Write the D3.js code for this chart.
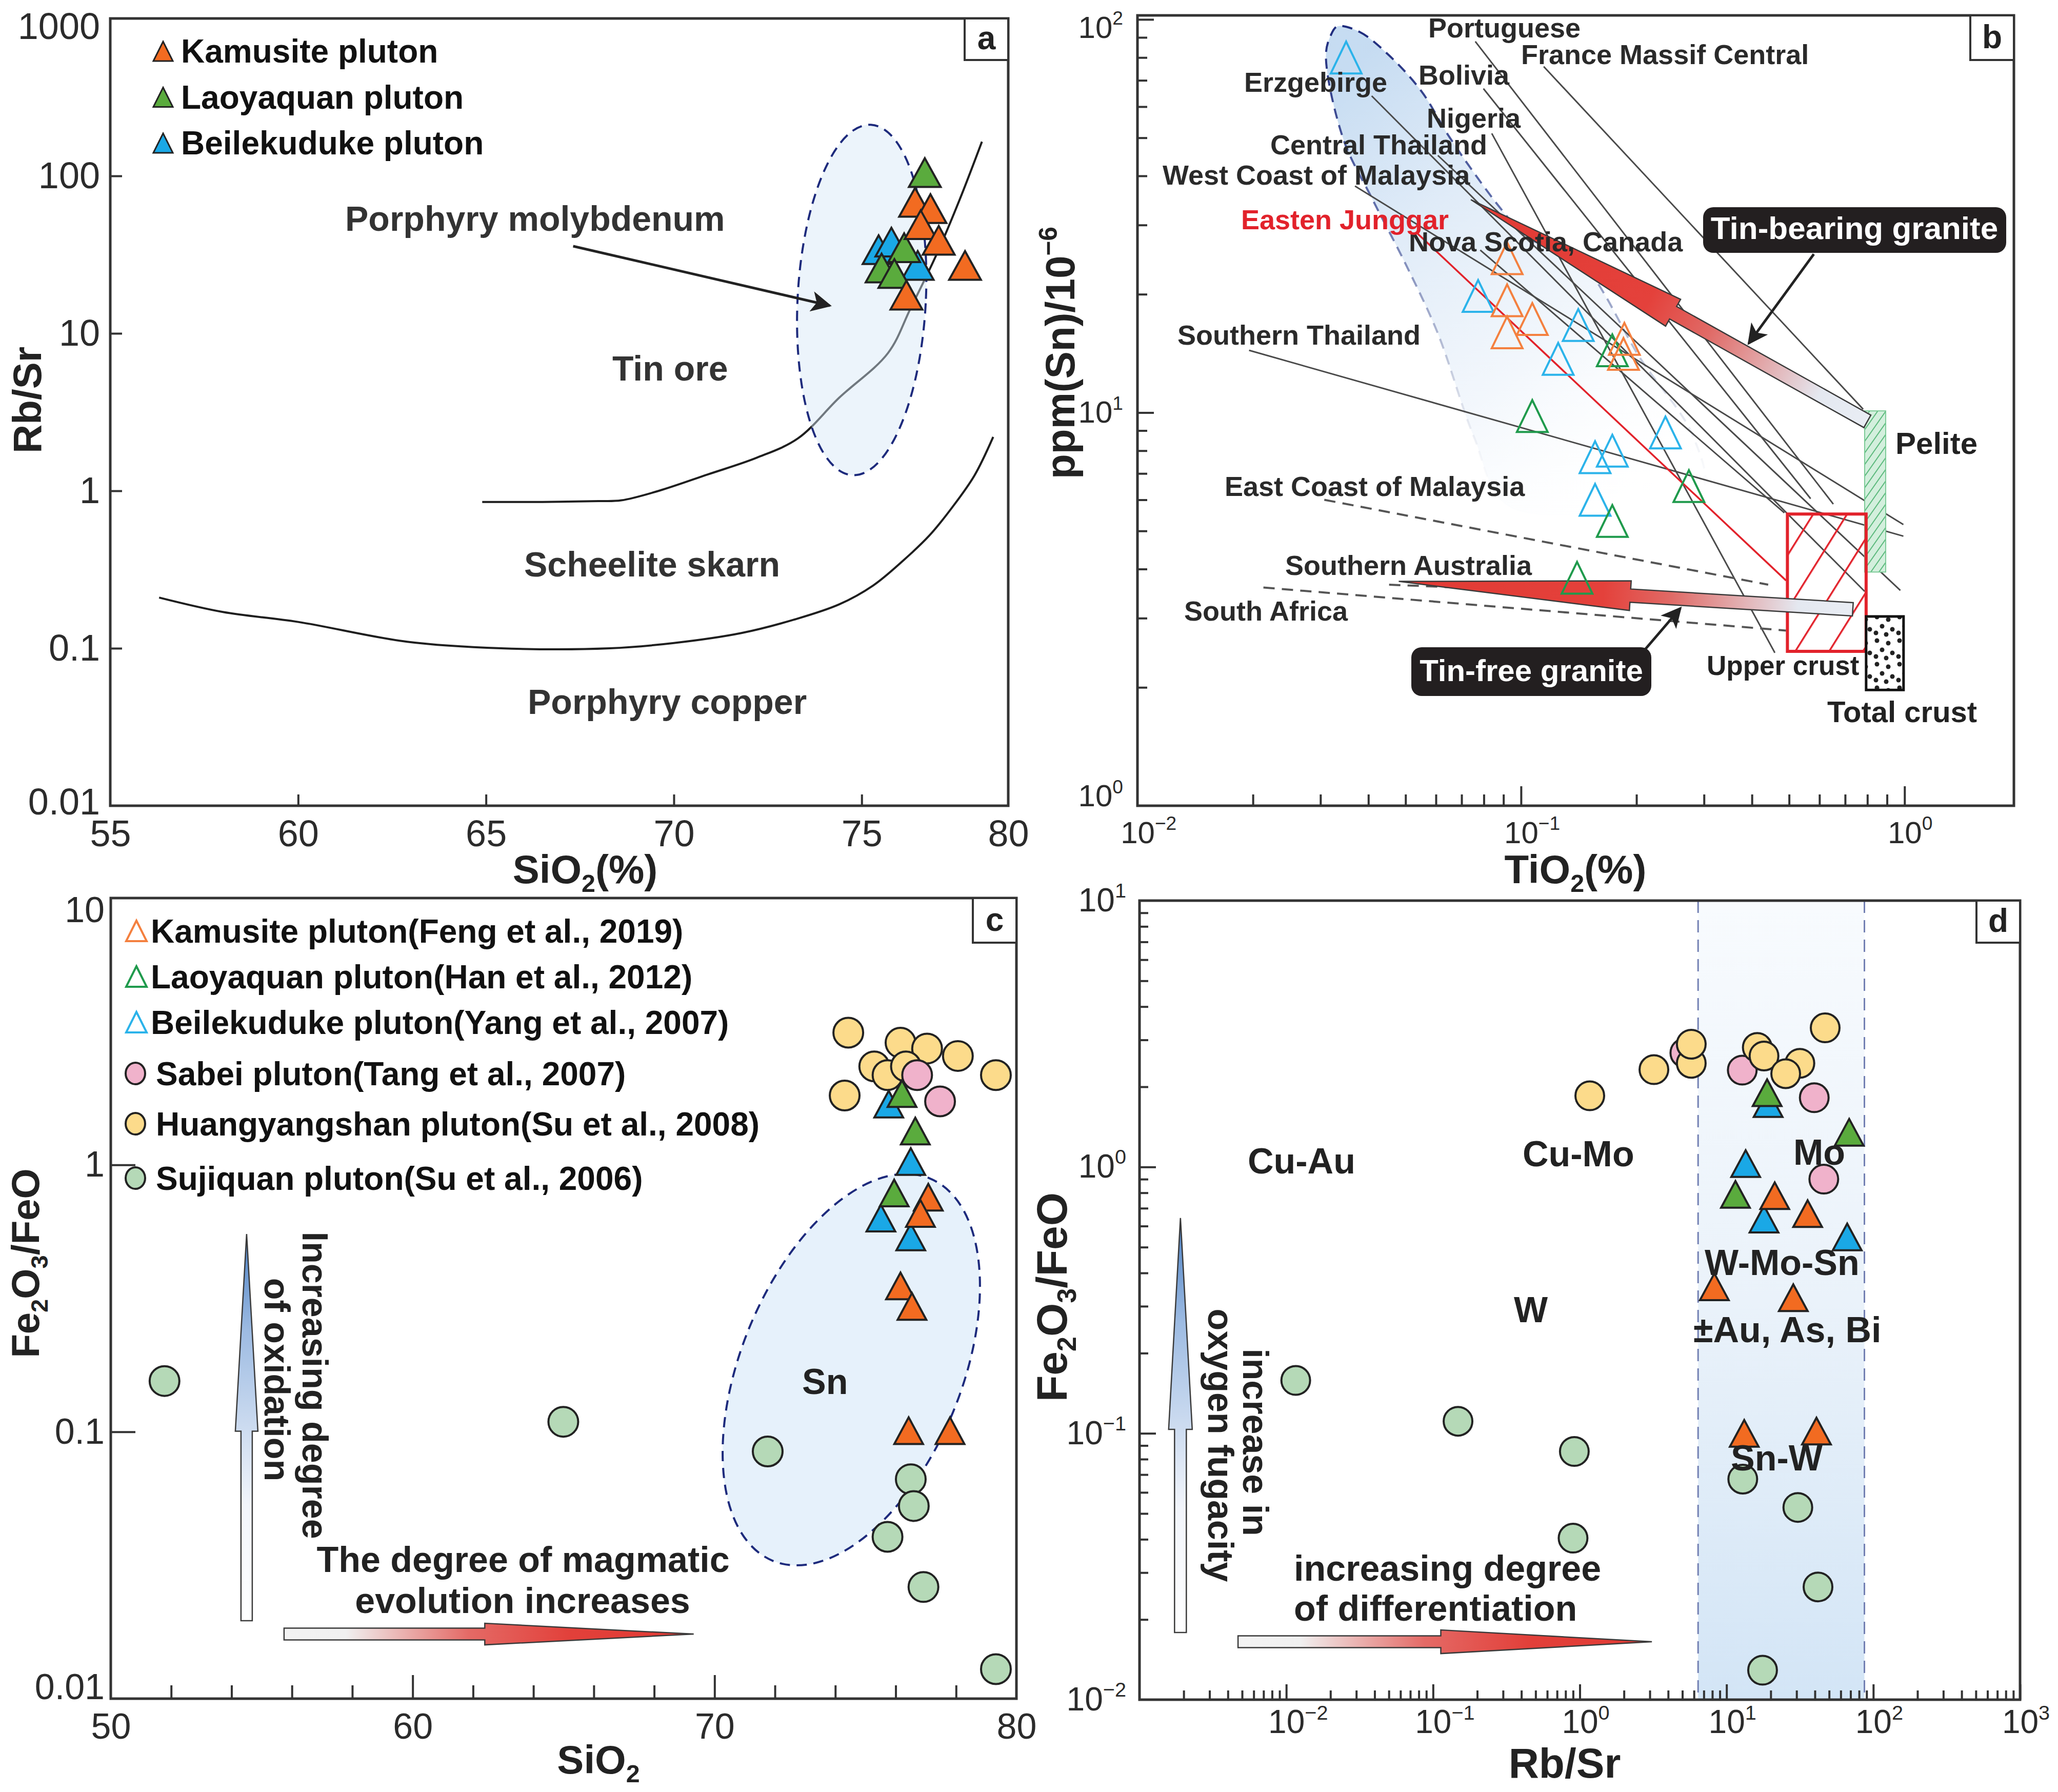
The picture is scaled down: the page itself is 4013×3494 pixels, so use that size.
<!DOCTYPE html>
<html><head><meta charset="utf-8">
<script src="https://cdn.jsdelivr.net/npm/d3@7/dist/d3.min.js"></script>
<style>html,body{margin:0;padding:0;background:#fff}text{font-family:"Liberation Sans",Arial,Helvetica,sans-serif}</style>
</head><body>
<svg id="fig" width="4013" height="3494" xmlns="http://www.w3.org/2000/svg"></svg>
<script>
// ===================== DATA =====================
// ---- panel a : SiO2 (%) vs Rb/Sr ----
const aKamusite   = [[76.42,68],[76.83,62],[76.57,49],[77.05,39],[77.75,27],[76.19,17.5]];
const aLaoyaquan  = [[76.68,105],[76.13,35],[75.53,26],[75.87,24]];
const aBeilekuduke= [[75.45,34],[75.79,38],[76.49,27]];
const aTinOreBoundary = [[64.9,0.85],[66.5,0.85],[68.0,0.86],[68.6,0.87],[69.6,1.0],[70.9,1.27],[72.2,1.62],[73.3,2.15],[74.4,3.9],[75.7,7.5],[76.3,14.4],[77.0,32],[77.6,70],[78.2,165]];
const aSkarnBoundary  = [[56.3,0.21],[58,0.17],[60,0.147],[62.9,0.11],[65.4,0.1],[68.3,0.1],[70,0.108],[71.8,0.125],[73.2,0.152],[74.4,0.19],[75.3,0.25],[76.1,0.36],[76.8,0.52],[77.4,0.78],[78.0,1.25],[78.5,2.2]];
const aXTickValues = [55,60,65,70,75,78.9];
const aXTickLabels = ['55','60','65','70','75','80'];
const aYTickValues = [0.01,0.1,1,10,100,1000];
const aYTickLabels = ['0.01','0.1','1','10','100','1000'];
const aLegendNames = ['Kamusite pluton','Laoyaquan pluton','Beilekuduke pluton'];
const aFieldCenter = [75.0,16.3];
const aPointer = [[67.32,35.8],[74.15,15.0]];

// ---- panel b : TiO2 (%) vs Sn (ppm) ----
const bKamusite   = [[0.092,24.7],[0.092,19.3],[0.107,17.3],[0.092,16.0],[0.186,15.4],[0.185,14.1]];
const bLaoyaquan  = [[0.107,9.8],[0.173,14.4],[0.274,6.5],[0.173,5.3],[0.140,3.8]];
const bBeilekuduke= [[0.035,80],[0.0773,19.8],[0.141,16.7],[0.125,13.7],[0.238,8.9],[0.156,7.7],[0.173,8.0],[0.156,6.0]];
const bTrendNames = ['Portuguese','France Massif Central','Bolivia','Nigeria','Erzgebirge','Central Thailand','West Coast of Malaysia','Nova Scotia, Canada','Southern Thailand'];
const bTrendFrom  = [[0.0760,87.9],[0.1146,75.9],[0.0798,66.7],[0.0839,51.3],[0.0408,63.9],[0.0607,45.1],[0.0369,37.7],[0.0783,25.9],[0.01954,14.4]];
const bTrendTo    = [[0.652,5.85],[0.780,10.2],[0.569,6.04],[0.459,2.45],[0.787,3.51],[0.975,3.53],[0.993,5.19],[0.486,5.56],[0.993,4.85]];
const bJunggarTrend = [[0.0536,28.6],[0.491,3.74]];
const bBarrenNames = ['East Coast of Malaysia','Southern Australia','South Africa'];
const bBarrenFrom  = [[0.0307,6.0],[0.0453,3.65],[0.0213,3.59]];
const bBarrenTo    = [[0.441,3.65],[0.479,3.32],[0.491,2.79]];
const bTinField = [[0.0332,96],[0.0379,93],[0.0453,81],[0.0551,65.5],[0.0644,51],[0.0753,40.8],[0.0897,32.5],[0.103,28],[0.142,24.3],[0.205,13.7],[0.281,8.7],[0.297,6.3],[0.176,5.6],[0.092,5.8],[0.0753,8.7],[0.0607,15.9],[0.050,23.9],[0.0411,34.7],[0.0344,49.7],[0.031,81],[0.0319,91]];
const bUpperCrustTi = [0.495,0.794], bUpperCrustSn = [2.47,5.52];
const bPeliteTi = [0.787,0.893],     bPeliteSn = [3.93,10.1];
const bTotalCrustTi = [0.794,0.994], bTotalCrustSn = [1.97,3.03];
const bTinBearingArrow = [[0.80,9.5],[0.074,34.8]];   // tail -> tip
const bTinFreeArrow    = [[0.733,3.16],[0.048,3.72]];
const bTinBearingPointer = [[0.580,25.3],[0.3924,15.0]];
const bTinFreePointer    = [[0.210,2.49],[0.2604,3.18]];
const bXMajor = [0.01,0.1,1], bXExp = ['−2','−1','0'];
const bYMajor = [1,10,100],   bYExp = ['0','1','2'];

// ---- panel c : SiO2 vs Fe2O3/FeO ----
const cKamusite   = [[77.08,0.757],[76.82,0.658],[76.16,0.352],[76.54,0.295],[76.43,0.101],[77.80,0.101]];
const cLaoyaquan  = [[76.21,1.85],[76.65,1.34],[75.95,0.785]];
const cBeilekuduke= [[75.77,1.69],[76.5,1.03],[75.51,0.632],[76.5,0.537]];
const cSabei      = [[76.71,2.17],[77.47,1.73]];
const cHuangyangshan = [[74.43,3.13],[76.16,2.87],[77.04,2.73],[78.06,2.56],[75.29,2.34],[75.73,2.17],[76.34,2.34],[79.32,2.17],[74.31,1.82]];
const cSujiquan   = [[51.78,0.155],[64.99,0.109],[71.76,0.0844],[76.5,0.0664],[76.6,0.0527],[75.73,0.0404],[76.92,0.0262],[79.32,0.0129]];
const cLegendNames = ['Kamusite pluton(Feng et al., 2019)','Laoyaquan pluton(Han et al., 2012)','Beilekuduke pluton(Yang et al., 2007)','Sabei pluton(Tang et al., 2007)','Huangyangshan pluton(Su et al., 2008)','Sujiquan pluton(Su et al., 2006)'];
const cSnFieldCenter = [74.53,0.171];
const cOxidationArrow = [[54.5,0.0196],[54.5,0.551]];
const cEvolutionArrow = [[55.74,0.01746],[69.31,0.01746]];
const cXTicks = [50,60,70,80];
const cXMinor = [52,54,56,58,62,64,66,68,72,74,76,78];
const cYTicks = [0.01,0.1,1,10], cYTickLabels = ['0.01','0.1','1','10'];

// ---- panel d : Rb/Sr vs Fe2O3/FeO ----
const dKamusite   = [[21.3,0.78],[35.7,0.668],[8.26,0.355],[28.5,0.323],[13.2,0.1],[41,0.102]];
const dLaoyaquan  = [[18.9,1.90],[68.5,1.35],[11.5,0.789]];
const dBeilekuduke= [[19.2,1.73],[13.5,1.03],[18.0,0.637],[66.4,0.546]];
const dSabei      = [[5.2,2.68],[12.8,2.31],[39.6,1.82],[46,0.90]];
const dHuangyangshan = [[1.17,1.85],[3.2,2.32],[5.75,2.45],[5.75,2.89],[16.2,2.81],[18.0,2.61],[31.6,2.45],[25.3,2.24],[47,3.33]];
const dSujiquan   = [[0.0116,0.158],[0.148,0.111],[0.918,0.0855],[0.90,0.0404],[12.9,0.0673],[30.6,0.0527],[42,0.0265],[17.6,0.0129]];
const dSnBand = [6.4,87];
const dOxidationArrow = [[0.0019,0.01787],[0.0019,0.643]];
const dDiffArrow = [[0.00469,0.0165],[3.1,0.0165]];
const dXMajor = [0.01,0.1,1,10,100,1000], dXExp = ['−2','−1','0','1','2','3'];
const dYMajor = [0.01,0.1,1,10], dYExp = ['−2','−1','0','1'];

// ===================== RENDER =====================
const svg = d3.select('#fig');
svg.append('rect').attr('width',4013).attr('height',3494).attr('fill','#fff');
const defs = svg.append('defs');
const COL = {orange:'#f26b21',green:'#5aab3d',blue:'#1aa8e6',oOpen:'#f4803f',gOpen:'#1f9a4c',bOpen:'#2bb3ea',
  yellow:'#fcdb8b',pink:'#f0b2cb',sage:'#b5d9b7',ink:'#222',frame:'#333',red:'#e2222b'};
const FF = '"Liberation Sans",Arial,sans-serif';

function addGrad(id, stops, attrs){
  const g = defs.append('linearGradient').attr('id',id);
  Object.entries(attrs||{}).forEach(([k,v])=>g.attr(k,v));
  stops.forEach(s=>g.append('stop').attr('offset',s[0]).attr('stop-color',s[1]).attr('stop-opacity',s.length>2?s[2]:1));
}
defs.append('marker').attr('id','ah').attr('viewBox','0 0 10 10').attr('refX',9).attr('refY',5)
  .attr('markerWidth',9).attr('markerHeight',8).attr('orient','auto').attr('markerUnits','strokeWidth')
  .append('path').attr('d','M0,0L10,5L0,10L2.5,5Z').attr('fill','#222');

function tri(g,data,x,y,w,h,fill,stroke,sw){
  g.append('g').selectAll('path').data(data).join('path')
   .attr('d',d=>{const px=x(d[0]),py=y(d[1]);return `M${px},${py-h/2}L${px+w/2},${py+h/2}L${px-w/2},${py+h/2}Z`;})
   .attr('fill',fill).attr('stroke',stroke).attr('stroke-width',sw).attr('stroke-linejoin','miter');
}
function dots(g,data,x,y,r,fill){
  g.append('g').selectAll('circle').data(data).join('circle')
   .attr('cx',d=>x(d[0])).attr('cy',d=>y(d[1])).attr('r',r).attr('fill',fill).attr('stroke','#222').attr('stroke-width',4);
}
function txt(g,x,y,s,fs,o){o=o||{};
  const t=g.append('text').attr('x',x).attr('y',y).attr('font-size',fs).attr('fill',o.fill||COL.ink)
   .attr('font-weight',o.weight||'bold').attr('text-anchor',o.anchor||'start');
  if(s!==null) t.text(s);
  if(o.transform) t.attr('transform',o.transform);
  return t;
}
function rich(t,parts,fs){let shift=0;
  parts.forEach(p=>{const target=p[1]==='sub'?fs*0.22:p[1]==='sup'?-fs*0.42:0;
    const ts=t.append('tspan').attr('dy',target-shift).text(p[0]); if(p[1]) ts.attr('font-size',fs*0.62); shift=target;});
  return t;
}
function fatArrow(g,p0,p1,headFrac,headHalf,shaftHalf,id,stops){
  const dx=p1[0]-p0[0],dy=p1[1]-p0[1],len=Math.hypot(dx,dy),ux=dx/len,uy=dy/len,nx=-uy,ny=ux;
  const hb=[p1[0]-ux*len*headFrac,p1[1]-uy*len*headFrac];
  const pts=[[p0[0]+nx*shaftHalf,p0[1]+ny*shaftHalf],[hb[0]+nx*shaftHalf,hb[1]+ny*shaftHalf],[hb[0]+nx*headHalf,hb[1]+ny*headHalf],p1,
    [hb[0]-nx*headHalf,hb[1]-ny*headHalf],[hb[0]-nx*shaftHalf,hb[1]-ny*shaftHalf],[p0[0]-nx*shaftHalf,p0[1]-ny*shaftHalf]];
  addGrad(id,stops,{gradientUnits:'userSpaceOnUse',x1:p0[0],y1:p0[1],x2:p1[0],y2:p1[1]});
  g.append('path').attr('d','M'+pts.map(p=>p[0].toFixed(1)+','+p[1].toFixed(1)).join('L')+'Z')
   .attr('fill',`url(#${id})`).attr('stroke','#3a3a3a').attr('stroke-width',2.5);
}
function styleAxis(sel,fs){
  sel.attr('font-family',FF).attr('font-size',fs);
  sel.select('.domain').remove();
  sel.selectAll('line').attr('stroke',COL.frame).attr('stroke-width',4);
  sel.selectAll('text').attr('fill','#2b2b2b');
}
function xAxis(g,scale,B,values,len,fmt,fs,pad){
  const a=d3.axisBottom(scale).tickValues(values).tickSizeInner(-len).tickSizeOuter(0).tickPadding(pad||0).tickFormat(fmt||(()=>''));
  const s=g.append('g').attr('transform',`translate(0,${B})`).call(a); styleAxis(s,fs||10); return s;
}
function yAxis(g,scale,L,values,len,fmt,fs,pad){
  const a=d3.axisLeft(scale).tickValues(values).tickSizeInner(-len).tickSizeOuter(0).tickPadding(pad||0).tickFormat(fmt||(()=>''));
  const s=g.append('g').attr('transform',`translate(${L},0)`).call(a); styleAxis(s,fs||10); return s;
}
function powLabels(s,exps,fs,bottom){
  s.selectAll('text').each(function(d,i){const t=d3.select(this);t.text('');
    if(bottom){t.attr('text-anchor','start').attr('x',-fs*0.556);}
    t.append('tspan').text('10'); t.append('tspan').attr('dy',-fs*0.42).attr('font-size',fs*0.62).text(exps[i]);});
}
function nudgeEnds(s,first,last){const n=s.selectAll('.tick').size();
  s.selectAll('.tick text').attr('transform',(d,i)=>i===0?`translate(0,${first})`:(i===n-1?`translate(0,${last})`:null));}
function logTicks(dom){const out=[];const lo=Math.floor(Math.log10(dom[0])-1e-9),hi=Math.ceil(Math.log10(dom[1]));
  for(let e=lo;e<=hi;e++)for(let m=2;m<10;m++){const v=m*Math.pow(10,e);if(v>dom[0]*1.001&&v<dom[1]*0.999)out.push(v);}return out;}
function frame(g,L,R,T,B){g.append('rect').attr('x',L).attr('y',T).attr('width',R-L).attr('height',B-T).attr('fill','none').attr('stroke',COL.frame).attr('stroke-width',5);}
function tag(g,x0,y0,x1,y1,l){g.append('rect').attr('x',x0).attr('y',y0).attr('width',x1-x0).attr('height',y1-y0).attr('fill','#fff').attr('stroke',COL.frame).attr('stroke-width',4);
  txt(g,(x0+x1)/2,y0+(y1-y0)*0.74,l,64,{anchor:'middle'});}

// ---------------- panel a ----------------
(function(){
  const L=215,R=1966,T=36,B=1571;
  const x=d3.scaleLinear().domain([55,78.9]).range([L,R]);
  const y=d3.scaleLog().domain([0.01,1000]).range([B,T]);
  const g=svg.append('g');
  const line=d3.line().x(d=>x(d[0])).y(d=>y(d[1])).curve(d3.curveCatmullRom.alpha(0.5));
  g.append('path').attr('d',line(aTinOreBoundary)).attr('fill','none').attr('stroke','#1e1e1e').attr('stroke-width',4);
  g.append('path').attr('d',line(aSkarnBoundary)).attr('fill','none').attr('stroke','#1e1e1e').attr('stroke-width',4);
  const c=[x(aFieldCenter[0]),y(aFieldCenter[1])];
  g.append('ellipse').attr('cx',0).attr('cy',0).attr('rx',125).attr('ry',342).attr('transform',`translate(${c[0]},${c[1]}) rotate(3)`)
   .attr('fill','#d4e6f7').attr('fill-opacity',0.45).attr('stroke','#1d2a7c').attr('stroke-width',4).attr('stroke-dasharray','20,13');
  g.append('line').attr('x1',x(aPointer[0][0])).attr('y1',y(aPointer[0][1])).attr('x2',x(aPointer[1][0])).attr('y2',y(aPointer[1][1]))
   .attr('stroke','#222').attr('stroke-width',5).attr('marker-end','url(#ah)');
  tri(g,aBeilekuduke,x,y,62,56,COL.blue,'#222',4);
  tri(g,aLaoyaquan,x,y,62,56,COL.green,'#222',4);
  tri(g,aKamusite,x,y,62,56,COL.orange,'#222',4);
  // region labels
  txt(g,673,450,'Porphyry molybdenum',68,{fill:'#333'});
  txt(g,1194,742,'Tin ore',68,{fill:'#333'});
  txt(g,1022,1124,'Scheelite skarn',68,{fill:'#333'});
  txt(g,1029,1392,'Porphyry copper',68,{fill:'#333'});
  // legend
  [COL.orange,COL.green,COL.blue].forEach((col,i)=>{
    const cy=100+i*89.5;
    g.append('path').attr('d',`M318,${cy-19}L337,${cy+19}L299,${cy+19}Z`).attr('fill',col).attr('stroke','#222').attr('stroke-width',3);
    txt(g,353,cy+22,aLegendNames[i],64,{fill:'#111'});
  });
  // axes
  xAxis(g,x,B,[60,65,70,75],22);
  yAxis(g,y,L,[0.1,1,10,100],23);
  xAxis(g,x,B,aXTickValues,0,(d,i)=>aXTickLabels[i],72,28);
  const yl=yAxis(g,y,L,aYTickValues,0,(d,i)=>aYTickLabels[i],72,20); nudgeEnds(yl,-7,16);
  frame(g,L,R,T,B);
  tag(g,1881,T,R,117,'a');
  rich(txt(g,1141,1722,null,78,{anchor:'middle'}),[['SiO'],['2','sub'],['(%)']],78);
  txt(g,0,0,'Rb/Sr',78,{anchor:'middle',transform:'translate(80,780) rotate(-90)'});
})();

// ---------------- panel b ----------------
(function(){
  const L=2218,R=3927,T=30,B=1571;
  const x=d3.scaleLog().domain([0.01,1.928]).range([L,R]);
  const y=d3.scaleLog().domain([1,102.4]).range([B,T]);
  const g=svg.append('g');
  // tin-granite field
  addGrad('tinFill',[[0,'#c3daf1',0.95],[0.3,'#dce9f7',0.9],[0.65,'#eef4fb',0.75],[1,'#ffffff',0]],{x1:0.2,y1:0,x2:0.8,y2:1});
  addGrad('tinStroke',[[0,'#1d2a7c'],[0.35,'#5b6aa8'],[0.7,'#c3cadc'],[1,'#ffffff',0]],{x1:0,y1:0,x2:0,y2:1});
  const field=d3.line().x(d=>x(d[0])).y(d=>y(d[1])).curve(d3.curveCatmullRomClosed.alpha(0.5));
  g.append('path').attr('d',field(bTinField)).attr('fill','url(#tinFill)').attr('stroke','url(#tinStroke)').attr('stroke-width',4).attr('stroke-dasharray','20,13');
  // patterns
  const pr=defs.append('pattern').attr('id','hatchRed').attr('patternUnits','userSpaceOnUse').attr('width',56).attr('height',56).attr('patternTransform','rotate(32)');
  pr.append('line').attr('x1',0).attr('y1',0).attr('x2',0).attr('y2',56).attr('stroke',COL.red).attr('stroke-width',7);
  const pg=defs.append('pattern').attr('id','hatchGreen').attr('patternUnits','userSpaceOnUse').attr('width',13).attr('height',13).attr('patternTransform','rotate(35)');
  pg.append('rect').attr('width',13).attr('height',13).attr('fill','#d3efdd');
  pg.append('line').attr('x1',0).attr('y1',0).attr('x2',0).attr('y2',13).attr('stroke','#5bb97c').attr('stroke-width',4);
  const pd=defs.append('pattern').attr('id','dotPat').attr('patternUnits','userSpaceOnUse').attr('width',44).attr('height',46);
  pd.append('rect').attr('width',44).attr('height',46).attr('fill','#fff');
  [[8,7],[30,12],[18,25],[38,31],[6,38],[26,41]].forEach(p=>pd.append('circle').attr('cx',p[0]).attr('cy',p[1]).attr('r',4.5).attr('fill','#222'));
  // trend lines
  g.append('g').selectAll('line').data(bTrendFrom).join('line')
   .attr('x1',d=>x(d[0])).attr('y1',d=>y(d[1])).attr('x2',(d,i)=>x(bTrendTo[i][0])).attr('y2',(d,i)=>y(bTrendTo[i][1]))
   .attr('stroke','#4a4a4a').attr('stroke-width',3);
  g.append('g').selectAll('line').data(bBarrenFrom).join('line')
   .attr('x1',d=>x(d[0])).attr('y1',d=>y(d[1])).attr('x2',(d,i)=>x(bBarrenTo[i][0])).attr('y2',(d,i)=>y(bBarrenTo[i][1]))
   .attr('stroke','#555').attr('stroke-width',4).attr('stroke-dasharray','22,14');
  g.append('line').attr('x1',x(bJunggarTrend[0][0])).attr('y1',y(bJunggarTrend[0][1])).attr('x2',x(bJunggarTrend[1][0])).attr('y2',y(bJunggarTrend[1][1]))
   .attr('stroke',COL.red).attr('stroke-width',3.5);
  // reference boxes
  g.append('rect').attr('x',x(bPeliteTi[0])).attr('y',y(bPeliteSn[1])).attr('width',x(bPeliteTi[1])-x(bPeliteTi[0])).attr('height',y(bPeliteSn[0])-y(bPeliteSn[1]))
   .attr('fill','url(#hatchGreen)').attr('stroke','#7ccb97').attr('stroke-width',2);
  g.append('rect').attr('x',x(bUpperCrustTi[0])).attr('y',y(bUpperCrustSn[1])).attr('width',x(bUpperCrustTi[1])-x(bUpperCrustTi[0])).attr('height',y(bUpperCrustSn[0])-y(bUpperCrustSn[1]))
   .attr('fill','url(#hatchRed)').attr('stroke',COL.red).attr('stroke-width',6);
  g.append('rect').attr('x',x(bTotalCrustTi[0])).attr('y',y(bTotalCrustSn[1])).attr('width',x(bTotalCrustTi[1])-x(bTotalCrustTi[0])).attr('height',y(bTotalCrustSn[0])-y(bTotalCrustSn[1]))
   .attr('fill','url(#dotPat)').attr('stroke','#111').attr('stroke-width',5);
  // big arrows
  const P=d=>[x(d[0]),y(d[1])];
  fatArrow(g,P(bTinBearingArrow[0]),P(bTinBearingArrow[1]),0.51,30,14,'gTB',[[0,'#e9edf4'],[0.12,'#e4e8f0'],[0.4,'#e06a66'],[0.55,'#e4413b'],[1,'#e23a34']]);
  fatArrow(g,P(bTinFreeArrow[0]),P(bTinFreeArrow[1]),0.51,29,13,'gTF',[[0,'#e9edf4'],[0.12,'#e4e8f0'],[0.4,'#e06a66'],[0.55,'#e4413b'],[1,'#e23a34']]);
  // triangles
  tri(g,bBeilekuduke,x,y,60,62,'none',COL.bOpen,4);
  tri(g,bLaoyaquan,x,y,60,62,'none',COL.gOpen,4);
  tri(g,bKamusite,x,y,60,62,'none',COL.oOpen,4);
  // labels
  const lab={'Portuguese':[2785,73],'France Massif Central':[2966,125],'Bolivia':[2766,165],'Nigeria':[2782,249],'Erzgebirge':[2426,179],
    'Central Thailand':[2477,301],'West Coast of Malaysia':[2267,360],'Nova Scotia, Canada':[2747,490],'Southern Thailand':[2296,672],
    'East Coast of Malaysia':[2388,967],'Southern Australia':[2506,1121],'South Africa':[2309,1210]};
  bTrendNames.concat(bBarrenNames).forEach(n=>txt(g,lab[n][0],lab[n][1],n,54,{fill:'#2a2a2a'}));
  txt(g,2420,447,'Easten Junggar',54,{fill:COL.red});
  txt(g,3696,885,'Pelite',60,{fill:'#222'});
  txt(g,3328,1316,'Upper crust',53,{fill:'#222'});
  txt(g,3563,1408,'Total crust',58,{fill:'#222'});
  // callouts
  g.append('rect').attr('x',3321).attr('y',404).attr('width',591).attr('height',89).attr('rx',20).attr('fill','#231f20');
  txt(g,3616,466,'Tin-bearing granite',62,{fill:'#fff',anchor:'middle'});
  g.append('rect').attr('x',2752).attr('y',1262).attr('width',468).attr('height',95).attr('rx',20).attr('fill','#231f20');
  txt(g,2986,1328,'Tin-free granite',60,{fill:'#fff',anchor:'middle'});
  [bTinBearingPointer,bTinFreePointer].forEach(p=>g.append('line').attr('x1',x(p[0][0])).attr('y1',y(p[0][1])).attr('x2',x(p[1][0])).attr('y2',y(p[1][1]))
    .attr('stroke','#222').attr('stroke-width',5).attr('marker-end','url(#ah)'));
  // axes
  const xm=logTicks(x.domain()), ym=logTicks(y.domain());
  xAxis(g,x,B,xm,22); xAxis(g,x,B,[0.1,1],38);
  yAxis(g,y,L,ym,19); yAxis(g,y,L,[10,100],32);
  const xl=xAxis(g,x,B,bXMajor,0,d=>'x',60,30); powLabels(xl,bXExp,60,true);
  const yl=yAxis(g,y,L,bYMajor,0,d=>'x',60,28); powLabels(yl,bYExp,60,false); nudgeEnds(yl,-19,16);
  frame(g,L,R,T,B);
  tag(g,3842,T,R,117,'b');
  rich(txt(g,3072,1722,null,78,{anchor:'middle'}),[['TiO'],['2','sub'],['(%)']],78);
  rich(txt(g,0,0,null,80,{anchor:'middle',transform:'translate(2095,688) rotate(-90)'}),[['ppm(Sn)/10'],['−6','sup']],80);
})();

// ---------------- panel c ----------------
(function(){
  const L=216,R=1982,T=1751,B=3312;
  const x=d3.scaleLinear().domain([50,80]).range([L,R]);
  const y=d3.scaleLog().domain([0.01,10]).range([B,T]);
  const g=svg.append('g');
  const c=[x(cSnFieldCenter[0]),y(cSnFieldCenter[1])];
  g.append('ellipse').attr('rx',215).attr('ry',403).attr('transform',`translate(${c[0]},${c[1]}) rotate(22.3)`)
   .attr('fill','#e6f1fb').attr('stroke','#1d2a7c').attr('stroke-width',4).attr('stroke-dasharray','20,13');
  const P=d=>[x(d[0]),y(d[1])];
  fatArrow(g,P(cOxidationArrow[0]),P(cOxidationArrow[1]),0.51,22,11,'gCox',[[0,'#ffffff'],[0.3,'#f2f5fb'],[0.75,'#9dbbe2'],[1,'#4b80c4']]);
  fatArrow(g,P(cEvolutionArrow[0]),P(cEvolutionArrow[1]),0.51,21,11.5,'gCev',[[0,'#f3f3f3'],[0.15,'#f0f0f0'],[0.45,'#e46a66'],[0.7,'#e2403a'],[1,'#e23a34']]);
  dots(g,cSujiquan,x,y,29,COL.sage);
  dots(g,cHuangyangshan,x,y,29,COL.yellow);
  dots(g,cSabei,x,y,29,COL.pink);
  tri(g,cBeilekuduke,x,y,56,52,COL.blue,'#222',4);
  tri(g,cLaoyaquan,x,y,56,52,COL.green,'#222',4);
  tri(g,cKamusite,x,y,56,52,COL.orange,'#222',4);
  txt(g,1564,2718,'Sn',70,{fill:'#222'});
  txt(g,1020,3065,'The degree of magmatic',70,{anchor:'middle'});
  txt(g,1019,3145,'evolution increases',70,{anchor:'middle'});
  txt(g,0,0,'Increasing degree',70,{anchor:'middle',transform:'translate(590,2701) rotate(90)'});
  txt(g,0,0,'of oxidation',70,{anchor:'middle',transform:'translate(516,2690) rotate(90)'});
  // legend
  const lc=[COL.oOpen,COL.gOpen,COL.bOpen];
  const ly=[1815,1904,1993,2093,2191,2297];
  cLegendNames.forEach((n,i)=>{
    if(i<3) g.append('path').attr('d',`M266,${ly[i]-20}L286,${ly[i]+20}L246,${ly[i]+20}Z`).attr('fill','none').attr('stroke',lc[i]).attr('stroke-width',4);
    else g.append('ellipse').attr('cx',264).attr('cy',ly[i]).attr('rx',19).attr('ry',21).attr('fill',[COL.pink,COL.yellow,COL.sage][i-3]).attr('stroke','#222').attr('stroke-width',4);
    txt(g,i<3?294:304,ly[i]+23,n,64,{fill:'#111'});
  });
  // axes
  xAxis(g,x,B,cXMinor,26); xAxis(g,x,B,[60,70],46); yAxis(g,y,L,[0.1,1],48);
  xAxis(g,x,B,cXTicks,0,d=>String(d),70,28);
  const yl=yAxis(g,y,L,cYTicks,0,(d,i)=>cYTickLabels[i],70,12); nudgeEnds(yl,-22,24);
  frame(g,L,R,T,B);
  tag(g,1897,T,R,1838,'c');
  rich(txt(g,1167,3458,null,78,{anchor:'middle'}),[['SiO'],['2','sub']],78);
  rich(txt(g,0,0,null,76,{anchor:'middle',transform:'translate(76,2463) rotate(-90)'}),[['Fe'],['2','sub'],['O'],['3','sub'],['/FeO']],76);
})();

// ---------------- panel d ----------------
(function(){
  const L=2222,R=3939,T=1756,B=3314;
  const x=d3.scaleLog().domain([0.001,1000]).range([L,R]);
  const y=d3.scaleLog().domain([0.01,10]).range([B,T]);
  const g=svg.append('g');
  addGrad('bandFill',[[0,'#f8fbfe'],[0.5,'#eaf2fa'],[1,'#d3e5f6']],{x1:0,y1:0,x2:0,y2:1});
  g.append('rect').attr('x',x(dSnBand[0])).attr('y',T).attr('width',x(dSnBand[1])-x(dSnBand[0])).attr('height',B-T).attr('fill','url(#bandFill)');
  g.append('g').selectAll('line').data(dSnBand).join('line').attr('x1',d=>x(d)).attr('x2',d=>x(d)).attr('y1',T).attr('y2',B)
   .attr('stroke','#7380b3').attr('stroke-width',3).attr('stroke-dasharray','24,14');
  const P=d=>[x(d[0]),y(d[1])];
  fatArrow(g,P(dOxidationArrow[0]),P(dOxidationArrow[1]),0.51,23,11.5,'gDox',[[0,'#ffffff'],[0.3,'#f2f5fb'],[0.75,'#9dbbe2'],[1,'#4b80c4']]);
  fatArrow(g,P(dDiffArrow[0]),P(dDiffArrow[1]),0.51,23,11.5,'gDdf',[[0,'#f3f3f3'],[0.15,'#f0f0f0'],[0.45,'#e46a66'],[0.7,'#e2403a'],[1,'#e23a34']]);
  dots(g,dSujiquan,x,y,28,COL.sage);
  dots(g,dSabei,x,y,28,COL.pink);
  dots(g,dHuangyangshan,x,y,28,COL.yellow);
  tri(g,dBeilekuduke,x,y,56,52,COL.blue,'#222',4);
  tri(g,dLaoyaquan,x,y,56,52,COL.green,'#222',4);
  tri(g,dKamusite,x,y,56,52,COL.orange,'#222',4);
  const lab=[['Cu-Au',2433,2288],['Cu-Mo',2969,2274],['Mo',3497,2271],['W-Mo-Sn',3324,2486],['W',2952,2578],['±Au, As, Bi',3302,2617],['Sn-W',3375,2867]];
  lab.forEach(l=>txt(g,l[1],l[2],l[0],70,{fill:'#222'}));
  txt(g,2523,3082,'increasing degree',70);
  txt(g,2523,3160,'of differentiation',70);
  txt(g,0,0,'increase in',70,{anchor:'middle',transform:'translate(2424,2812) rotate(90)'});
  txt(g,0,0,'oxygen fugacity',70,{anchor:'middle',transform:'translate(2356,2818) rotate(90)'});
  // axes
  xAxis(g,x,B,logTicks(x.domain()),18); xAxis(g,x,B,dXMajor,30);
  yAxis(g,y,L,logTicks(y.domain()),17); yAxis(g,y,L,[0.1,1],32);
  const xl=xAxis(g,x,B,dXMajor,0,d=>'x',64,20); powLabels(xl,dXExp,64,true);
  const yl=yAxis(g,y,L,dYMajor,0,d=>'x',64,26); powLabels(yl,dYExp,64,false);
  frame(g,L,R,T,B);
  tag(g,3854,T,R,1838,'d');
  txt(g,3051,3466,'Rb/Sr',82,{anchor:'middle'});
  rich(txt(g,0,0,null,84,{anchor:'middle',transform:'translate(2080,2529) rotate(-90)'}),[['Fe'],['2','sub'],['O'],['3','sub'],['/FeO']],84);
})();
</script></body></html>
